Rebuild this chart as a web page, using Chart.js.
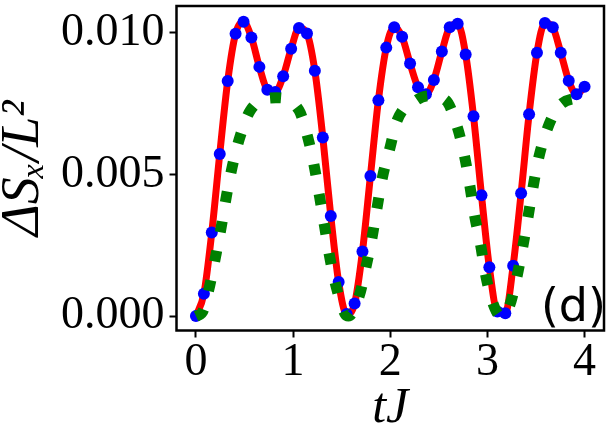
<!DOCTYPE html>
<html>
<head>
<meta charset="utf-8">
<script src="https://cdn.jsdelivr.net/npm/chart.js@4.4.1/dist/chart.umd.min.js"></script>
<style>
html,body{margin:0;padding:0;background:#fff;}
canvas{display:block;}
</style>
</head>
<body>
<canvas id="c" width="610" height="429"></canvas>
<script>
// ---- data ----
const times = [0.000, 0.082, 0.163, 0.245, 0.327, 0.408, 0.490, 0.571, 0.653, 0.735,
               0.816, 0.898, 0.980, 1.061, 1.143, 1.224, 1.306, 1.388, 1.469, 1.551,
               1.633, 1.714, 1.796, 1.878, 1.959, 2.041, 2.122, 2.204, 2.286, 2.367,
               2.449, 2.531, 2.612, 2.694, 2.776, 2.857, 2.939, 3.020, 3.102, 3.184,
               3.265, 3.347, 3.429, 3.510, 3.592, 3.673, 3.755, 3.837, 3.918, 4.000];
const deltaSx = [0.00000, 0.00079, 0.00295, 0.00572, 0.00830, 0.00997, 0.01039, 0.00984, 0.00880, 0.00799,
                 0.00791, 0.00847, 0.00944, 0.01017, 0.00998, 0.00866, 0.00631, 0.00353, 0.00120, 0.00007,
                 0.00044, 0.00228, 0.00495, 0.00762, 0.00948, 0.01020, 0.00986, 0.00892, 0.00808, 0.00783,
                 0.00834, 0.00934, 0.01020, 0.01032, 0.00924, 0.00706, 0.00427, 0.00172, 0.00016, 0.00010,
                 0.00178, 0.00434, 0.00713, 0.00930, 0.01035, 0.01020, 0.00930, 0.00831, 0.00783, 0.00810];
const approxTimes = [0.000, 0.064, 0.143, 0.204, 0.262, 0.313, 0.372, 0.449, 0.558, 0.823,
                     1.060, 1.155, 1.220, 1.274, 1.325, 1.376, 1.440, 1.536, 1.570, 1.682,
                     1.753, 1.814, 1.865, 1.919, 1.995, 2.072, 2.276, 2.400, 2.572, 2.691,
                     2.766, 2.821, 2.868, 2.929, 2.980, 3.058, 3.140, 3.224, 3.303, 3.361,
                     3.415, 3.466, 3.524, 3.609, 3.744, 4.000];
const approxValues = [0.00000, 0.000125, 0.00109, 0.00213, 0.00318, 0.00422, 0.00525, 0.00628, 0.00725, 0.00771,
                      0.00727, 0.00626, 0.00525, 0.00419, 0.00315, 0.00210, 0.00108, 0.00007, 0.00000, 0.00073,
                      0.00178, 0.00280, 0.00384, 0.00489, 0.00591, 0.00692, 0.00764, 0.00778, 0.00762, 0.00666,
                      0.00562, 0.00457, 0.00355, 0.00253, 0.00148, 0.00044, 0.00000, 0.00033, 0.00137, 0.00239,
                      0.00344, 0.00448, 0.00553, 0.00654, 0.00744, 0.00774];
const xTicks = [0, 1, 2, 3, 4];
const yTicks = [0, 0.005, 0.010];
const yTickLabels = ['0.000', '0.005', '0.010'];
const xLabel = 'tJ';
const yLabel = 'ΔSₓ/L²';
const panelLabel = '(d)';

// ---- chart ----
const exactPts = times.map((t, i) => ({x: t, y: deltaSx[i]}));
const approxPts = approxTimes.map((t, i) => ({x: t, y: approxValues[i]}));

const framePlugin = {
  id: 'frame',
  afterDatasetsDraw(chart) {
    const {ctx, chartArea: a} = chart;
    ctx.save();
    ctx.strokeStyle = '#000';
    ctx.lineWidth = 2.5;
    ctx.strokeRect(a.left, a.top, a.right - a.left, a.bottom - a.top);
    ctx.font = '46px "DejaVu Sans"';
    ctx.fillStyle = '#000';
    ctx.textAlign = 'right';
    ctx.textBaseline = 'alphabetic';
    ctx.fillText(panelLabel, a.right + 2, a.bottom - 10);
    ctx.restore();
  }
};

const tickFont = {family: '"Liberation Serif", serif', size: 46, lineHeight: 1};

new Chart(document.getElementById('c'), {
  type: 'line',
  data: {
    datasets: [
      {
        label: 'approx',
        data: approxPts,
        borderColor: '#008000',
        borderWidth: 11,
        borderDash: [11, 19],
        borderCapStyle: 'butt',
        pointRadius: 0,
        fill: false,
        cubicInterpolationMode: 'monotone',
        order: 0
      },
      {
        label: 'samples',
        data: exactPts,
        showLine: false,
        pointRadius: 6,
        pointBackgroundColor: '#0000ff',
        pointBorderWidth: 0,
        borderColor: '#0000ff',
        order: 1
      },
      {
        label: 'exact',
        data: exactPts,
        borderColor: '#ff0000',
        borderWidth: 7,
        pointRadius: 0,
        fill: false,
        cubicInterpolationMode: 'monotone',
        borderJoinStyle: 'round',
        order: 2
      }
    ]
  },
  options: {
    responsive: false,
    animation: false,
    events: [],
    layout: {padding: {top: 3, right: 2.2, left: 0, bottom: 0}},
    plugins: {legend: {display: false}, tooltip: {enabled: false}},
    scales: {
      x: {
        type: 'linear',
        min: -0.2,
        max: 4.2,
        afterBuildTicks: s => { s.ticks = xTicks.map(v => ({value: v})); },
        afterFit: s => { s.height = 98.5; },
        border: {display: false},
        grid: {drawOnChartArea: false, drawTicks: true, tickLength: 7, tickWidth: 2, tickColor: '#000'},
        ticks: {font: tickFont, color: '#000', padding: 2, maxRotation: 0, autoSkip: false,
                callback: v => String(v)},
        title: {display: true, text: xLabel, color: '#000', padding: 0,
                font: {family: '"Liberation Serif", serif', size: 50, style: 'italic', lineHeight: 0.8}}
      },
      y: {
        type: 'linear',
        min: -0.00051,
        max: 0.01095,
        afterBuildTicks: s => { s.ticks = yTicks.map(v => ({value: v})); },
        afterFit: s => { s.width = 176.5; s.paddingTop = 0; s.paddingBottom = 0; },
        border: {display: false},
        grid: {drawOnChartArea: false, drawTicks: true, tickLength: 7, tickWidth: 2, tickColor: '#000'},
        ticks: {font: tickFont, color: '#000', padding: 5, autoSkip: false,
                callback: (v) => yTickLabels[yTicks.indexOf(v)] ?? v.toFixed(3)},
        title: {display: true, text: yLabel, color: '#000', padding: {top: 2, bottom: 0},
                font: {family: '"Liberation Serif", serif', size: 54, style: 'italic', lineHeight: 0.8}}
      }
    }
  },
  plugins: [framePlugin]
});
</script>
</body>
</html>
